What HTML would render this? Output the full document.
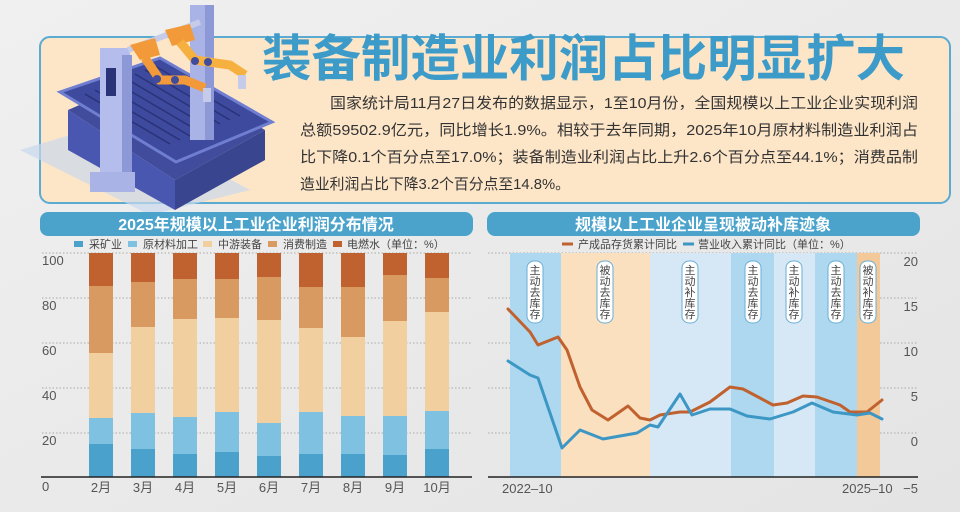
<!DOCTYPE html>
<html><head><meta charset="utf-8"><style>
html,body{margin:0;padding:0;background:#ebebeb;}
svg{display:block;font-family:"Liberation Sans","Noto Sans CJK SC",sans-serif;}
</style></head><body>
<svg width="960" height="512" viewBox="0 0 960 512" xmlns="http://www.w3.org/2000/svg">
<defs>
<linearGradient id="bg" x1="0" y1="0" x2="1" y2="1"><stop offset="0" stop-color="#f0f0f0"/><stop offset="1" stop-color="#e4e4e4"/></linearGradient>
</defs>
<rect width="960" height="512" fill="url(#bg)"/>
<rect x="40" y="37" width="910" height="166" rx="10" fill="#fde6c8" stroke="#5aaad2" stroke-width="2"/>
<polygon points="20,150 120,120 250,190 150,215" fill="#c9d8ec" opacity="0.7"/>
<polygon points="68,110 160,70 265,130 175,180" fill="#414c9c"/>
<polygon points="68,110 175,180 175,210 68,150" fill="#4a57b0"/>
<polygon points="175,180 265,130 265,160 175,210" fill="#3a4590"/>
<polygon points="60,92 160,58 272,122 176,162" fill="#3d4a9e" stroke="#6f7ed0" stroke-width="3"/>
<g stroke="#2a3378" stroke-width="1.5">
<line x1="95" y1="90" x2="180" y2="140"/><line x1="105" y1="86" x2="190" y2="136"/><line x1="115" y1="82" x2="200" y2="132"/><line x1="125" y1="78" x2="210" y2="128"/><line x1="135" y1="74" x2="220" y2="124"/><line x1="145" y1="70" x2="230" y2="120"/><line x1="155" y1="66" x2="240" y2="116"/><line x1="85" y1="94" x2="170" y2="144"/>
</g>
<rect x="190" y="5" width="24" height="135" fill="#a9b3e6"/><rect x="205" y="5" width="9" height="135" fill="#8d98d6"/>
<rect x="100" y="48" width="30" height="135" fill="#b4bdec"/><rect x="122" y="55" width="10" height="128" fill="#8d98d6"/>
<rect x="106" y="68" width="10" height="28" fill="#2a3378"/>
<rect x="90" y="172" width="45" height="20" fill="#a9b3e6"/>
<line x1="128" y1="50" x2="200" y2="22" stroke="#c5cbe8" stroke-width="6"/>
<polygon points="130,45 155,38 160,55 140,60" fill="#f29a3a"/>
<polygon points="165,30 190,24 195,40 172,46" fill="#f29a3a"/>
<path d="M145,58 L160,80 L185,80 L205,88" stroke="#f29a3a" stroke-width="9" fill="none"/>
<path d="M180,42 L195,60 L230,65 L245,75" stroke="#f5b040" stroke-width="9" fill="none"/>
<circle cx="157" cy="79" r="4" fill="#414c9c"/><circle cx="175" cy="80" r="4" fill="#414c9c"/><circle cx="195" cy="61" r="4" fill="#414c9c"/><circle cx="208" cy="62" r="4" fill="#414c9c"/>
<rect x="203" y="88" width="8" height="14" fill="#c5cbe8"/><rect x="238" y="75" width="8" height="14" fill="#c5cbe8"/>
<text x="262" y="76" font-size="50" font-weight="bold" fill="#3d9bc9" textLength="643" lengthAdjust="spacingAndGlyphs">装备制造业利润占比明显扩大</text>
<g font-size="15" fill="#333">
<text x="330" y="108" textLength="588" lengthAdjust="spacingAndGlyphs">国家统计局11月27日发布的数据显示，1至10月份，全国规模以上工业企业实现利润</text>
<text x="300" y="135" textLength="618" lengthAdjust="spacingAndGlyphs">总额59502.9亿元，同比增长1.9%。相较于去年同期，2025年10月原材料制造业利润占</text>
<text x="300" y="162" textLength="618" lengthAdjust="spacingAndGlyphs">比下降0.1个百分点至17.0%；装备制造业利润占比上升2.6个百分点至44.1%；消费品制</text>
<text x="300" y="189" textLength="270" lengthAdjust="spacingAndGlyphs">造业利润占比下降3.2个百分点至14.8%。</text>
</g>
<rect x="40" y="212" width="433" height="24" rx="8" fill="#4ba3cc"/>
<text x="256" y="230" font-size="16" font-weight="bold" fill="#fff" text-anchor="middle">2025年规模以上工业企业利润分布情况</text>
<g font-size="11" fill="#444">
<rect x="74" y="241" width="9" height="6" fill="#4aa2cc"/><text x="89" y="248">采矿业</text>
<rect x="128" y="241" width="9" height="6" fill="#7ec1e0"/><text x="143" y="248">原材料加工</text>
<rect x="203" y="241" width="9" height="6" fill="#f2cf9f"/><text x="218" y="248">中游装备</text>
<rect x="268" y="241" width="9" height="6" fill="#d99a62"/><text x="283" y="248">消费制造</text>
<rect x="333" y="241" width="9" height="6" fill="#c0622f"/><text x="347" y="248">电燃水（单位：%）</text>
</g>
<g stroke="#aaa" stroke-dasharray="1.5,2" stroke-width="1">
<line x1="42" y1="253" x2="472" y2="253"/><line x1="42" y1="298" x2="472" y2="298"/><line x1="42" y1="343" x2="472" y2="343"/><line x1="42" y1="388" x2="472" y2="388"/><line x1="42" y1="433" x2="472" y2="433"/>
<line x1="488" y1="253" x2="918" y2="253"/><line x1="488" y1="298" x2="918" y2="298"/><line x1="488" y1="343" x2="918" y2="343"/><line x1="488" y1="388" x2="918" y2="388"/><line x1="488" y1="433" x2="918" y2="433"/>
</g>
<g font-size="13" fill="#555">
<text x="42" y="265">100</text><text x="42" y="310">80</text><text x="42" y="355">60</text><text x="42" y="400">40</text><text x="42" y="445">20</text><text x="42" y="491">0</text>
</g>
<g>
<g><rect x="89" y="253" width="24" height="33" fill="#c0622f"/><rect x="89" y="286" width="24" height="67" fill="#d99a62"/><rect x="89" y="353" width="24" height="65" fill="#f2cf9f"/><rect x="89" y="418" width="24" height="26" fill="#7ec1e0"/><rect x="89" y="444" width="24" height="33" fill="#4aa2cc"/></g>
<g><rect x="131" y="253" width="24" height="29" fill="#c0622f"/><rect x="131" y="282" width="24" height="45" fill="#d99a62"/><rect x="131" y="327" width="24" height="86" fill="#f2cf9f"/><rect x="131" y="413" width="24" height="36" fill="#7ec1e0"/><rect x="131" y="449" width="24" height="28" fill="#4aa2cc"/></g>
<g><rect x="173" y="253" width="24" height="26" fill="#c0622f"/><rect x="173" y="279" width="24" height="40" fill="#d99a62"/><rect x="173" y="319" width="24" height="98" fill="#f2cf9f"/><rect x="173" y="417" width="24" height="37" fill="#7ec1e0"/><rect x="173" y="454" width="24" height="23" fill="#4aa2cc"/></g>
<g><rect x="215" y="253" width="24" height="26" fill="#c0622f"/><rect x="215" y="279" width="24" height="39" fill="#d99a62"/><rect x="215" y="318" width="24" height="94" fill="#f2cf9f"/><rect x="215" y="412" width="24" height="40" fill="#7ec1e0"/><rect x="215" y="452" width="24" height="25" fill="#4aa2cc"/></g>
<g><rect x="257" y="253" width="24" height="24" fill="#c0622f"/><rect x="257" y="277" width="24" height="43" fill="#d99a62"/><rect x="257" y="320" width="24" height="103" fill="#f2cf9f"/><rect x="257" y="423" width="24" height="33" fill="#7ec1e0"/><rect x="257" y="456" width="24" height="21" fill="#4aa2cc"/></g>
<g><rect x="299" y="253" width="24" height="34" fill="#c0622f"/><rect x="299" y="287" width="24" height="41" fill="#d99a62"/><rect x="299" y="328" width="24" height="84" fill="#f2cf9f"/><rect x="299" y="412" width="24" height="42" fill="#7ec1e0"/><rect x="299" y="454" width="24" height="23" fill="#4aa2cc"/></g>
<g><rect x="341" y="253" width="24" height="34" fill="#c0622f"/><rect x="341" y="287" width="24" height="50" fill="#d99a62"/><rect x="341" y="337" width="24" height="79" fill="#f2cf9f"/><rect x="341" y="416" width="24" height="38" fill="#7ec1e0"/><rect x="341" y="454" width="24" height="23" fill="#4aa2cc"/></g>
<g><rect x="383" y="253" width="24" height="22" fill="#c0622f"/><rect x="383" y="275" width="24" height="46" fill="#d99a62"/><rect x="383" y="321" width="24" height="95" fill="#f2cf9f"/><rect x="383" y="416" width="24" height="39" fill="#7ec1e0"/><rect x="383" y="455" width="24" height="22" fill="#4aa2cc"/></g>
<g><rect x="425" y="253" width="24" height="25" fill="#c0622f"/><rect x="425" y="278" width="24" height="34" fill="#d99a62"/><rect x="425" y="312" width="24" height="99" fill="#f2cf9f"/><rect x="425" y="411" width="24" height="38" fill="#7ec1e0"/><rect x="425" y="449" width="24" height="28" fill="#4aa2cc"/></g>
</g>
<line x1="41" y1="477" x2="472" y2="477" stroke="#222" stroke-width="1.5"/>
<g font-size="13" fill="#555" text-anchor="middle">
<text x="101" y="492">2月</text><text x="143" y="492">3月</text><text x="185" y="492">4月</text><text x="227" y="492">5月</text><text x="269" y="492">6月</text><text x="311" y="492">7月</text><text x="353" y="492">8月</text><text x="395" y="492">9月</text><text x="437" y="492">10月</text>
</g>
<rect x="487" y="212" width="433" height="24" rx="8" fill="#4ba3cc"/>
<text x="703" y="230" font-size="16" font-weight="bold" fill="#fff" text-anchor="middle">规模以上工业企业呈现被动补库迹象</text>
<g font-size="11" fill="#444">
<line x1="562" y1="244" x2="573" y2="244" stroke="#c0622f" stroke-width="3"/><text x="578" y="248">产成品存货累计同比</text>
<line x1="683" y1="244" x2="694" y2="244" stroke="#3d97c4" stroke-width="3"/><text x="698" y="248">营业收入累计同比（单位：%）</text>
</g>
<rect x="510" y="253" width="51" height="224" fill="#aed8f0"/>
<rect x="561" y="253" width="89" height="224" fill="#fbe0c0"/>
<rect x="650" y="253" width="81" height="224" fill="#d6e8f6"/>
<rect x="731" y="253" width="43" height="224" fill="#aed8f0"/>
<rect x="774" y="253" width="41" height="224" fill="#d6e8f6"/>
<rect x="815" y="253" width="42" height="224" fill="#aed8f0"/>
<rect x="857" y="253" width="23" height="224" fill="#f3c999"/>
<g font-size="11" fill="#444" text-anchor="middle">
<g><rect x="527" y="261" width="16" height="62" rx="7" fill="#fff" stroke="#6aaed6"/><text x="535" y="274">主</text><text x="535" y="285">动</text><text x="535" y="296">去</text><text x="535" y="307">库</text><text x="535" y="318">存</text></g>
<g><rect x="597" y="261" width="16" height="62" rx="7" fill="#fff" stroke="#6aaed6"/><text x="605" y="274">被</text><text x="605" y="285">动</text><text x="605" y="296">去</text><text x="605" y="307">库</text><text x="605" y="318">存</text></g>
<g><rect x="682" y="261" width="16" height="62" rx="7" fill="#fff" stroke="#6aaed6"/><text x="690" y="274">主</text><text x="690" y="285">动</text><text x="690" y="296">补</text><text x="690" y="307">库</text><text x="690" y="318">存</text></g>
<g><rect x="745" y="261" width="16" height="62" rx="7" fill="#fff" stroke="#6aaed6"/><text x="753" y="274">主</text><text x="753" y="285">动</text><text x="753" y="296">去</text><text x="753" y="307">库</text><text x="753" y="318">存</text></g>
<g><rect x="786" y="261" width="16" height="62" rx="7" fill="#fff" stroke="#6aaed6"/><text x="794" y="274">主</text><text x="794" y="285">动</text><text x="794" y="296">补</text><text x="794" y="307">库</text><text x="794" y="318">存</text></g>
<g><rect x="828" y="261" width="16" height="62" rx="7" fill="#fff" stroke="#6aaed6"/><text x="836" y="274">主</text><text x="836" y="285">动</text><text x="836" y="296">去</text><text x="836" y="307">库</text><text x="836" y="318">存</text></g>
<g><rect x="860" y="261" width="16" height="62" rx="7" fill="#fff" stroke="#6aaed6"/><text x="868" y="274">被</text><text x="868" y="285">动</text><text x="868" y="296">补</text><text x="868" y="307">库</text><text x="868" y="318">存</text></g>
</g>
<polyline fill="none" stroke="#c0622f" stroke-width="3" stroke-linejoin="round" stroke-linecap="round" points="508,309 530,332 538,345 558,337 567,350 580,387 592,410 608,420 628,406 640,418 650,420 660,415 680,412 690,412 710,402 730,387 743,389 760,398 773,405 787,403 803,396 817,397 840,405 850,412 867,412 882,400"/>
<polyline fill="none" stroke="#3d97c4" stroke-width="3" stroke-linejoin="round" stroke-linecap="round" points="508,361 530,375 538,378 562,448 570,440 580,430 603,439 637,433 650,425 658,427 680,394 692,415 710,409 730,409 747,416 770,419 793,412 812,403 833,412 857,415 870,413 882,419"/>
<line x1="488" y1="477" x2="918" y2="477" stroke="#222" stroke-width="1.5"/>
<g font-size="13" fill="#555" text-anchor="end">
<text x="918" y="266">20</text><text x="918" y="311">15</text><text x="918" y="356">10</text><text x="918" y="401">5</text><text x="918" y="446">0</text><text x="918" y="493">−5</text>
</g>
<g font-size="13" fill="#555">
<text x="502" y="493">2022–10</text><text x="842" y="493">2025–10</text>
</g>
</svg>
</body></html>
